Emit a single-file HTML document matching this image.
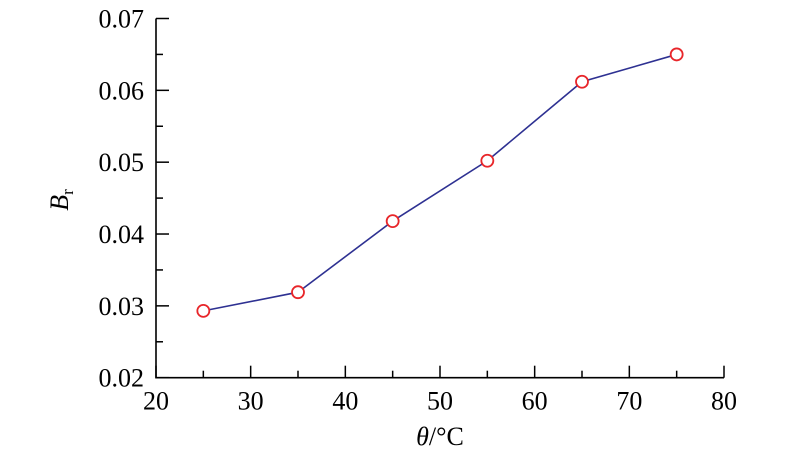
<!DOCTYPE html>
<html><head><meta charset="utf-8"><style>
html,body{margin:0;padding:0;background:#fff;}
svg{display:block;font-family:"Liberation Serif",serif;}
</style></head><body>
<svg id="chart" width="800" height="455" viewBox="0 0 800 455" xmlns="http://www.w3.org/2000/svg">
<g id="axes"></g>
<g id="series"></g>
<text x="440" y="445" font-size="26" text-anchor="middle"><tspan font-style="italic">θ</tspan>/°C</text>
<text transform="translate(68,200) rotate(-90)" font-size="26" text-anchor="middle"><tspan font-style="italic">B</tspan><tspan font-size="17" dy="5">r</tspan></text>
</svg>
<script>
const xValues=[25,35,45,55,65,75];
const yValues=[0.0293,0.0319,0.0418,0.0502,0.0612,0.0650];
const xTicks=[20,30,40,50,60,70,80];
const yTicks=[0.02,0.03,0.04,0.05,0.06,0.07];
const x0=156,x1=724,yB=377.7,yT=18.5;
const xs=v=>x0+(v-20)/60*(x1-x0);
const ys=v=>yB-(v-0.02)/0.05*(yB-yT);
const NS="http://www.w3.org/2000/svg";
const axes=document.getElementById('axes'),series=document.getElementById('series');
function mk(tag,attrs,parent){const e=document.createElementNS(NS,tag);for(const k in attrs)e.setAttribute(k,attrs[k]);parent.appendChild(e);return e;}
let ax=mk('path',{d:`M${x0} ${yT}V${yB}H${x1}`,stroke:'#000','stroke-width':1.6,fill:'none'},axes);


xTicks.forEach((t,i)=>{
  const x=xs(t);
  let l=mk('line',{x1:x,x2:x,y1:yB,y2:yB-12,stroke:'#000','stroke-width':1.5},axes);
  
  
  let tx=mk('text',{x:x,y:yB+32,'font-size':26,'text-anchor':'middle'},axes);
  tx.textContent=t;
  
  
  if(i<xTicks.length-1){const xm=xs(t+5);
    let m=mk('line',{x1:xm,x2:xm,y1:yB,y2:yB-7,stroke:'#000','stroke-width':1.5},axes);
    
    }
});
yTicks.forEach((t,i)=>{
  const y=ys(t);
  let l=mk('line',{x1:x0,x2:x0+13,y1:y,y2:y,stroke:'#000','stroke-width':1.5},axes);
  
  
  let tx=mk('text',{x:x0-12,y:y+9,'font-size':26,'text-anchor':'end'},axes);
  tx.textContent=t.toFixed(2);
  
  
  if(i<yTicks.length-1){const ym=ys(t+0.005);
    let m=mk('line',{x1:x0,x2:x0+7,y1:ym,y2:ym,stroke:'#000','stroke-width':1.5},axes);
    
    }
});
let line=mk('polyline',{points:xValues.map((v,i)=>xs(v)+','+ys(yValues[i])).join(' '),stroke:'#2e3192','stroke-width':1.6,fill:'none'},series);


xValues.forEach((v,i)=>{
  let c=mk('circle',{cx:xs(v),cy:ys(yValues[i]),r:6,fill:'#fff',stroke:'#e8262a','stroke-width':1.8},series);
  
  
});
</script>
</body></html>
